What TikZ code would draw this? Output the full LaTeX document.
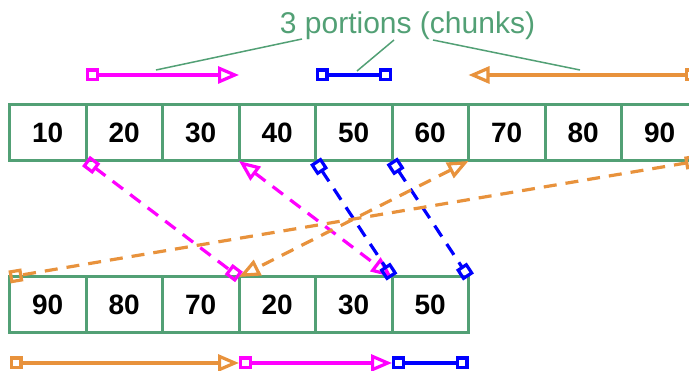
\documentclass[tikz,border=0pt]{standalone}
\usepackage{fontspec}
\setmainfont{Liberation Sans}
\usetikzlibrary{arrows.meta}

\definecolor{cellgreen}{HTML}{52A075}
\definecolor{chmag}{HTML}{FF00FF}
\definecolor{chblue}{HTML}{0000FF}
\definecolor{chorange}{HTML}{E8923C}

\tikzset{
  cell/.style={draw=cellgreen, line width=3pt, minimum width=76.5pt,
    minimum height=56pt, inner sep=0pt, outer sep=0pt,
    font=\fontsize{28}{30}\selectfont\bfseries},
  chunk/.style={line width=3.2pt},
  move/.style={line width=3.2pt, dash pattern=on 13pt off 9pt},
  sqtip/.tip={Square[open,length=13pt,width=13pt]},
  tritip/.tip={Triangle[open,length=21pt,width=17pt]},
  sqsq/.style={{sqtip}-{sqtip}},
  sqtri/.style={{sqtip}-{tritip}},
  tritri/.style={{tritip}-{tritip}},
  leader/.style={draw=cellgreen, line width=1.5pt}
}

\begin{document}
\begin{tikzpicture}[x=1pt,y=-1pt]
\useasboundingbox (0,0) rectangle (689,371);

% source array
\foreach \v [count=\i] in {10,20,30,40,50,60,70,80,90}
  \node[cell] (t\i) at ({9.5+76.5*(\i-0.5)},133) {\v};

% rearranged array
\foreach \v [count=\i] in {90,80,70,20,30,50}
  \node[cell] (b\i) at ({9.5+76.5*(\i-0.5)},305) {\v};

% caption and its leaders
\node[font=\fontsize{30}{32}\selectfont, text=cellgreen, anchor=base, inner sep=0pt]
  (title) at (407.5,33.5) {3 portions (chunks)};
\coordinate (la1) at (302,39);  \coordinate (lb1) at (156,70);
\coordinate (la2) at (394,40);  \coordinate (lb2) at (357,71);
\coordinate (la3) at (433,40);  \coordinate (lb3) at (580,70);
\draw[leader] (la1) -- (lb1);
\draw[leader] (la2) -- (lb2);
\draw[leader] (la3) -- (lb3);

% chunk extents above the source array
\coordinate (ma) at (86,75);   \coordinate (mb) at (239,75);
\coordinate (ba) at (315.5,75); \coordinate (bb) at (392,75);
\coordinate (oa) at (698,75);  \coordinate (ob) at (468.5,75);
\draw[chunk, chmag, sqtri] (ma) -- (mb);
\draw[chunk, chblue, sqsq] (ba) -- (bb);
\draw[chunk, chorange, sqtri] (oa) -- (ob);

% chunk extents below the rearranged array
\coordinate (oc) at (9.5,363);  \coordinate (od) at (239,363);
\coordinate (mc) at (239,363);  \coordinate (md) at (392,363);
\coordinate (bc) at (392,363);  \coordinate (bd) at (468.5,363);
\draw[chunk, chorange, sqtri] (oc) -- (od);
\draw[chunk, chmag, sqtri] (mc) -- (md);
\draw[chunk, chblue, sqsq] (bc) -- (bd);

% where each chunk moves
\draw[move, chmag, sqsq] (t2.south west) -- (b4.north west);
\draw[move, chmag, tritri] (t4.south west) -- (b5.north east);
\draw[move, chblue, sqsq] (t5.south west) -- (b6.north west);
\draw[move, chblue, sqsq] (t6.south west) -- (b6.north east);
\draw[move, chorange, sqsq] (t9.south east) -- (b1.north west);
\draw[move, chorange, tritri] (t7.south west) -- (b4.north west);
\end{tikzpicture}
\end{document}
